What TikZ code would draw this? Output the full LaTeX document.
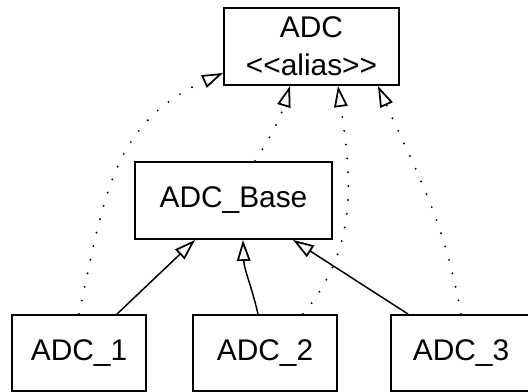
\documentclass[tikz,border=0pt]{standalone}
\usepackage{fontspec}
\setmainfont{Liberation Sans}
\usetikzlibrary{arrows.meta,positioning}

\begin{document}
\begin{tikzpicture}[
  x=0.02cm, y=0.02cm,
  cls/.style={draw=black, fill=white, line width=1.1pt,
              minimum height=1.54cm, inner sep=2pt,
              align=center, font=\fontsize{17}{21.6}\selectfont},
  inh/.style={line width=0.85pt,
              -{Triangle[open,length=0.42cm,width=0.27cm,line width=1pt]}},
  als/.style={inh, line cap=round, dash pattern=on 0pt off 7.9pt,
              line width=1.2pt}
]
  \useasboundingbox (0,0) rectangle (528,392);

  \node[cls, minimum width=3.5cm]  (alias) at (311.5,345.5)
    {ADC\\<\kern0pt<alias>\kern0pt>};
  \node[cls, minimum width=3.94cm] (base)  at (233.5,191.5) {ADC\_Base};
  \node[cls, minimum width=2.68cm, minimum height=1.52cm] (a1) at (79,39)  {ADC\_1};
  \node[cls, minimum width=2.88cm, minimum height=1.52cm] (a2) at (265,39) {ADC\_2};
  \node[cls, minimum width=2.8cm,  minimum height=1.52cm] (a3) at (461,39) {ADC\_3};

  % realisations of the base
  \draw[inh] ([xshift=0.76cm]a1.north)  -- ([xshift=-0.77cm]base.south);
  \draw[inh] ([xshift=-0.14cm]a2.north) to[out=103,in=-88] ([xshift=0.19cm]base.south);
  \draw[inh] ([xshift=-1.06cm]a3.north) -- ([xshift=1.19cm]base.south);

  % alias links
  \draw[als] (a1.north) to[out=78,in=-156,looseness=1.1] ([yshift=-0.53cm]alias.west);
  \draw[als] ([xshift=0.43cm]base.north) to[bend right=8] ([xshift=-0.43cm]alias.south);
  \draw[als] ([xshift=0.76cm]a2.north) to[out=50,in=-82] ([xshift=0.53cm]alias.south);
  \draw[als] (a3.north) to[out=100,in=-66] ([xshift=1.33cm]alias.south);

\end{tikzpicture}
\end{document}
